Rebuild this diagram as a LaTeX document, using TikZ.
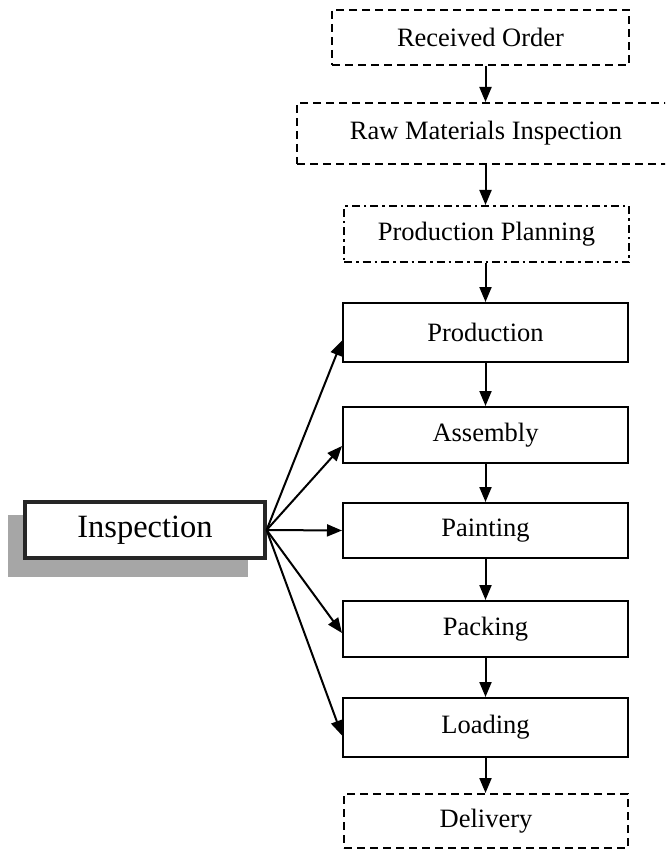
\documentclass[tikz,border=0pt]{standalone}
\usepackage{fontspec}
\setmainfont{Liberation Serif}
\usetikzlibrary{arrows.meta}
\begin{document}
\begin{tikzpicture}[x=1pt,y=-1pt,
  box/.style={draw=black, line width=2pt, minimum width=285pt, inner sep=0pt, font=\fontsize{26.5}{31}\selectfont, fill=white},
  dbox/.style={box, dash pattern=on 8pt off 5pt},
  ddbox/.style={box, dash pattern=on 8pt off 4pt on 2.5pt off 4pt},
  arr/.style={line width=2pt, -{Triangle[length=15pt,width=12pt]}},
  inspbox/.style={draw=black!85, line width=3.2pt, minimum width=240pt, minimum height=56pt, inner sep=0pt, fill=white, font=\fontsize{32.5}{38}\selectfont},
  shadowfill/.style={fill=black!35}
]
\useasboundingbox (0,0) rectangle (665,850);
\clip (0,0) rectangle (665,850);
\fill[white] (0,0) rectangle (665,850);

\node[dbox, minimum width=297pt, minimum height=55pt] (recv) at (480.5,37.5) {Received Order};
\node[dbox, minimum width=378pt, minimum height=61pt] (raw) at (486,133.5) {Raw Materials Inspection};
\node[ddbox, minimum height=56pt] (plan) at (486.5,234) {Production Planning};
\node[box, minimum height=59pt] (prod) at (485.5,332.5) {Production};
\node[box, minimum height=56pt] (asm) at (485.5,435) {Assembly};
\node[box, minimum height=55pt] (paint) at (485.5,530.5) {Painting};
\node[box, minimum height=56pt] (pack) at (485.5,629) {Packing};
\node[box, minimum height=59pt] (load) at (485.5,727.5) {Loading};
\node[dbox, minimum width=284pt, minimum height=54pt] (deliv) at (486,821) {Delivery};

\fill[shadowfill] (8,515) rectangle (248,577);
\node[inspbox] (insp) at (145,530) {Inspection};

\draw[arr] (recv.south -| prod.center) -- (raw.north -| prod.center);
\draw[arr] (raw.south -| prod.center) -- (plan.north -| prod.center);
\draw[arr] (plan.south -| prod.center) -- (prod.north);
\draw[arr] (prod.south) -- (asm.north);
\draw[arr] (asm.south) -- (paint.north);
\draw[arr] (paint.south) -- (pack.north);
\draw[arr] (pack.south) -- (load.north);
\draw[arr] (load.south) -- (deliv.north -| load.center);

\draw[arr] (insp.east) -- ([yshift=-8pt]prod.west);
\draw[arr] (insp.east) -- ([yshift=-11pt]asm.west);
\draw[arr] (insp.east) -- (paint.west);
\draw[arr] (insp.east) -- ([yshift=-4pt]pack.west);
\draw[arr] (insp.east) -- ([yshift=-8pt]load.west);
\end{tikzpicture}
\end{document}
